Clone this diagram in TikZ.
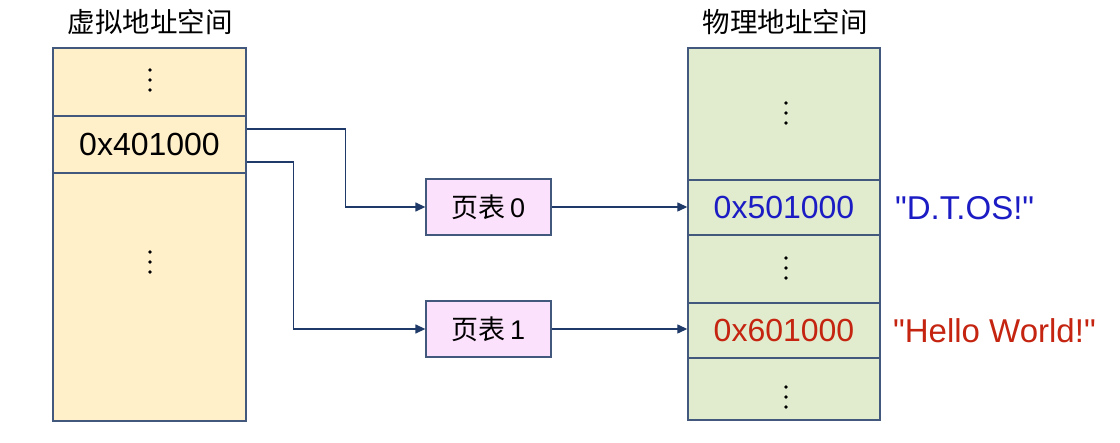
\documentclass[tikz,border=0pt]{standalone}
\usepackage{fontspec}
\setmainfont{Liberation Sans}
\newfontfamily\cjk{Noto Sans CJK SC}
\usetikzlibrary{arrows.meta,calc}
\definecolor{vfill}{HTML}{FFF0CA}
\definecolor{pfill}{HTML}{E0ECCD}
\definecolor{tfill}{HTML}{FCE1FC}
\definecolor{cellline}{HTML}{42587C}
\definecolor{conn}{HTML}{1F3A68}
\definecolor{tblue}{HTML}{1C1CC4}
\definecolor{tred}{HTML}{C42410}
\tikzset{
  cell/.style={draw=cellline, line width=1.4pt, inner sep=0pt, minimum width=193pt, font=\fontsize{32}{36}\selectfont},
  vcell/.style={cell, fill=vfill},
  pcell/.style={cell, fill=pfill, minimum width=192pt},
  tbl/.style={draw=cellline, line width=1.3pt, fill=tfill, minimum width=125pt, minimum height=56pt, inner sep=0pt, font=\fontsize{27}{30}\selectfont},
  conn/.style={draw=conn, line width=1.3pt, -{Triangle[length=10pt,width=9pt]}},
  title/.style={font=\cjk\fontsize{27.5}{30}\selectfont},
  lbl/.style={anchor=west, inner sep=0pt, font=\fontsize{33}{36}\selectfont}
}
\newcommand{\dotcol}[2]{\fill (#1,#2-10) circle (1.9pt) (#1,#2) circle (1.9pt) (#1,#2+10) circle (1.9pt);}
\begin{document}
\begin{tikzpicture}[x=1pt,y=-1pt]
\useasboundingbox[fill=white] (0,0) rectangle (1120,443);
% titles
\node[title] (vt) at (150,22) {虚拟地址空间};
\node[title] (pt) at (785,22) {物理地址空间};
% virtual column
\node[vcell, minimum height=68pt] (v1) at (149.5,82) {};
\node[vcell, minimum height=57pt] (v2) at (149.5,144.5) {0x401000};
\node[vcell, minimum height=248pt] (v3) at (149.5,297) {};
% physical column
\node[pcell, minimum height=132pt] (p1) at (784,114) {};
\node[pcell, minimum height=55pt, text=tblue] (p2) at (784,207.5) {0x501000};
\node[pcell, minimum height=68pt] (p3) at (784,269) {};
\node[pcell, minimum height=55pt, text=tred] (p4) at (784,330.5) {0x601000};
\node[pcell, minimum height=62pt] (p5) at (784,389) {};
% dots
\dotcol{150}{80}
\dotcol{150}{262}
\dotcol{786}{113}
\dotcol{786}{268}
\dotcol{786}{397}
% page tables
\node[tbl] (t0) at (488.5,207) {{\cjk 页表}\,0};
\node[tbl] (t1) at (488.5,329) {{\cjk 页表}\,1};
% labels
\node[lbl, text=tblue] (s0) at (895,208) {\textquotedbl D.T.OS!\textquotedbl};
\node[lbl, text=tred] (s1) at (893,331) {\textquotedbl Hello World!\textquotedbl};
% connectors
\draw[conn] ([yshift=15.5pt]v2.east) -- ++(99,0) |- (t0.west);
\draw[conn] ([yshift=-17.5pt]v2.east) -- ++(47,0) |- (t1.west);
\draw[conn] (t0.east) -- (t0.east -| p2.west);
\draw[conn] (t1.east) -- (t1.east -| p4.west);
\end{tikzpicture}
\end{document}
